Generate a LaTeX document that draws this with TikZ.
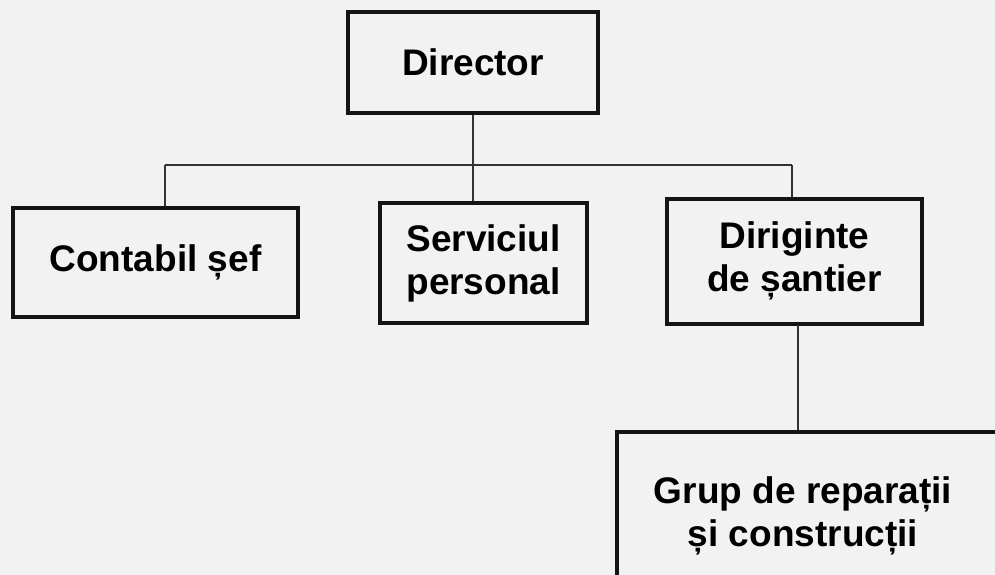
\documentclass[tikz,border=0pt]{standalone}
\usepackage{fontspec}
\setmainfont{Liberation Sans}
\begin{document}
\begin{tikzpicture}[x=1pt,y=-1pt,
  box/.style={draw=black!92, line width=4pt, rectangle, inner sep=0pt,
    align=center, font=\fontsize{37}{43}\selectfont\bfseries},
  conn/.style={draw=black!80, line width=1.2pt}]
\fill[black!5] (0,0) rectangle (995,575);
\clip (0,0) rectangle (995,575);
% boxes
\node[box, minimum width=250pt, minimum height=101pt] (dir) at (473,62.5) {Director};
\node[box, minimum width=285pt, minimum height=109pt] (cont) at (155.5,262.5) {Contabil șef};
\node[box, minimum width=207pt, minimum height=120pt] (serv) at (483.5,263) {Serviciul\\personal};
\node[box, minimum width=255pt, minimum height=125pt] (dirig) at (794.5,261) {Diriginte\\de șantier};
\node[box, minimum width=420pt, minimum height=168pt, align=left] (grup) at (827,516)
  {\hspace*{-48pt}\begin{tabular}{@{}c@{}}Grup de reparații\\și construcții\end{tabular}};
% connectors
\coordinate (hl) at (165,165);
\coordinate (hr) at (792,165);
\draw[conn] (hl) -- (hr);
\draw[conn] (dir.south) -- (dir.south |- serv.north);
\draw[conn] (hl) -- (hl |- cont.north);
\draw[conn] (hr) -- (hr |- dirig.north);
\draw[conn] (798,325) coordinate (dd) -- (dd |- grup.north);
\end{tikzpicture}
\end{document}
